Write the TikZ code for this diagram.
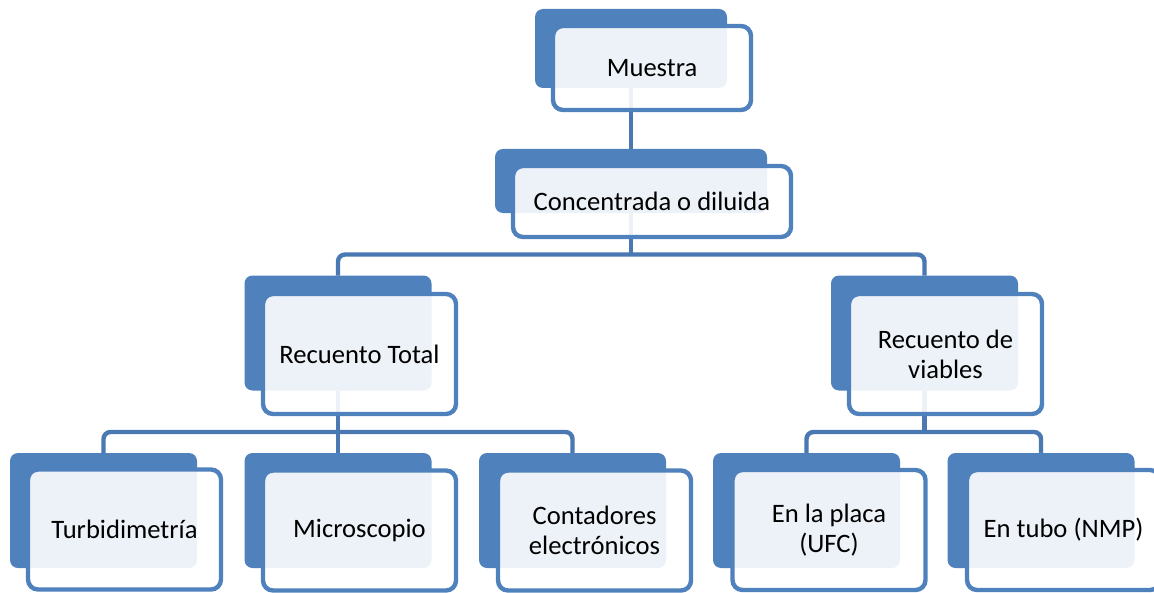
\documentclass[tikz,border=0pt]{standalone}
\usepackage{fontspec}
\setmainfont{Carlito}
\usetikzlibrary{backgrounds}
\definecolor{accent}{HTML}{4F81BD}
\definecolor{linkc}{HTML}{4A78B2}
\tikzset{
	backbox/.style={rectangle,rounded corners=4pt,fill=accent,inner sep=0pt,outer sep=0pt,minimum width=93.5pt,minimum height=57.5pt},
	textbox/.style={rectangle,rounded corners=5pt,draw=accent,line width=2.2pt,fill=white,fill opacity=0.9,text opacity=1,inner sep=0pt,outer sep=0pt,align=center,font=\fontsize{13.3}{15}\selectfont,minimum width=96.5pt,minimum height=60pt},
	link/.style={draw=linkc,line width=2.2pt,rounded corners=3.5pt}}

\begin{document}
\begin{tikzpicture}[x=0.5pt,y=-0.5pt]
	\useasboundingbox (0,0) rectangle (1154,593);
	\node (Mb) at (631,48.5) [backbox,minimum width=96pt,minimum height=39.5pt] {};
	\node (M) at (652,68) [textbox,minimum width=99pt,minimum height=42pt] {Muestra};
	\node (Cb) at (631,181) [backbox,minimum width=136pt,minimum height=32pt] {};
	\node (C) at (652,201.5) [textbox,minimum width=139pt,minimum height=35.5pt] {Concentrada o diluida};
	\node (Rb) at (338,333) [backbox] {};
	\node (R) at (359.5,354) [textbox] {Recuento Total};
	\node (Vb) at (924.5,333) [backbox] {};
	\node (V) at (945.5,354) [textbox] {Recuento de\\viables};
	\node (Tb) at (103.5,510.5) [backbox] {};
	\node (T) at (124.5,529.5) [textbox] {Turbidimetría};
	\node (Mcb) at (338,510.5) [backbox] {};
	\node (Mc) at (359.5,530.5) [textbox] {Microscopio};
	\node (Eb) at (572.5,510.5) [backbox] {};
	\node (E) at (594.5,530.5) [textbox] {Contadores\\electrónicos};
	\node (Pb) at (806.5,510.5) [backbox] {};
	\node (P) at (829,530) [textbox] {En la placa\\(UFC)};
	\node (Nb) at (1041,510.5) [backbox] {};
	\node (N) at (1063.5,530) [textbox] {En tubo (NMP)};
	\begin{pgfonlayer}{background}
		\draw [link] (Mb.south) -- (Cb.north);
		\draw [link] (Cb.south) -- ++(0,43);
		\draw [link] (Rb.north) -- ++(0,-21) -| (Vb.north);
		\draw [link] (Rb.south) -- (Mcb.north);
		\draw [link] (Tb.north) -- ++(0,-21) -| (Eb.north);
		\draw [link] (Vb.south) -- ++(0,43);
		\draw [link] (Pb.north) -- ++(0,-21) -| (Nb.north);
	\end{pgfonlayer}
\end{tikzpicture}
\end{document}
